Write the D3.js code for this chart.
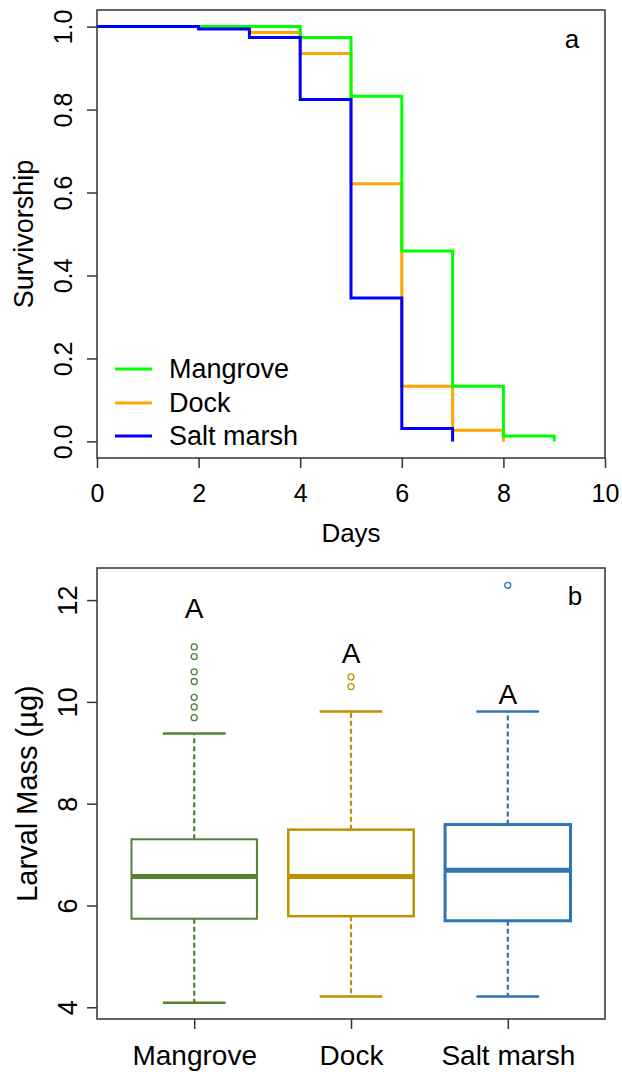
<!DOCTYPE html>
<html>
<head>
<meta charset="utf-8">
<script src="https://cdn.jsdelivr.net/npm/d3@7"></script>
<style>
  body { margin: 0; background: #fff; }
  svg text { font-family: "Liberation Sans", Arial, sans-serif; fill: #000; }
</style>
</head>
<body>
<div id="chart"></div>
<script>
// ---- panel a: survivorship ----
var dayTicks = [0, 2, 4, 6, 8, 10];
var survTicks = [0, 0.2, 0.4, 0.6, 0.8, 1.0];

var mangroveDays = [0, 4, 5, 6, 7, 8, 9];
var mangroveSurv = [1, 0.974, 0.832, 0.459, 0.133, 0.013, 0];
var dockDays = [0, 3, 4, 5, 6, 7, 8];
var dockSurv = [1, 0.986, 0.935, 0.621, 0.133, 0.027, 0];
var saltDays = [0, 2, 3, 4, 5, 6, 7];
var saltSurv = [1, 0.994, 0.974, 0.824, 0.346, 0.031, 0];

var seriesNames = ["Mangrove", "Dock", "Salt marsh"];
var seriesColors = ["#00ff00", "#ffa500", "#0000ff"];

// ---- panel b: larval mass ----
var sites = ["Mangrove", "Dock", "Salt marsh"];
var siteColors = ["#548235", "#bf9000", "#2e75b6"];
var lowerWhisker = [4.09, 4.21, 4.21];
var q1 = [5.74, 5.79, 5.70];
var medians = [6.57, 6.57, 6.69];
var q3 = [7.30, 7.49, 7.59];
var upperWhisker = [9.38, 9.81, 9.81];
var outliers = [
    [9.69, 9.90, 10.09, 10.40, 10.59, 10.89, 11.08],
    [10.30, 10.49],
    [12.29]
];
var groupLetters = ["A", "A", "A"];
var letterY = [11.85, 10.95, 10.15];
var massTicks = [4, 6, 8, 10, 12];

var svg = d3.select("#chart").append("svg")
    .attr("width", 622)
    .attr("height", 1072);

svg.append("rect").attr("width", 622).attr("height", 1072).attr("fill", "#fff");

// panel a scales
var xA = d3.scaleLinear().domain([0, 10]).range([97, 605]);
var yA = d3.scaleLinear().domain([-0.04, 1.04]).range([458, 10]);

var gA = svg.append("g");

var stepLine = d3.line()
    .x(function(d) { return xA(d[0]); })
    .y(function(d) { return yA(d[1]); })
    .curve(d3.curveStepAfter);

var curves = [
    d3.zip(mangroveDays, mangroveSurv),
    d3.zip(dockDays, dockSurv),
    d3.zip(saltDays, saltSurv)
];

// dock first, then mangrove, salt marsh on top
[1, 0, 2].forEach(function(i) {
    gA.append("path")
        .attr("d", stepLine(curves[i]))
        .attr("fill", "none")
        .attr("stroke", seriesColors[i])
        .attr("stroke-width", 3);
});

gA.append("rect")
    .attr("x", 97).attr("y", 10)
    .attr("width", 508).attr("height", 448)
    .attr("fill", "none")
    .attr("stroke", "#333")
    .attr("stroke-width", 1.5);

var axisA_x = gA.append("g")
    .attr("transform", "translate(0,458)")
    .call(d3.axisBottom(xA).tickValues(dayTicks).tickSize(10).tickPadding(16));
axisA_x.select(".domain").remove();
axisA_x.selectAll("line").attr("stroke", "#333").attr("stroke-width", 1.5);
axisA_x.selectAll("text").style("font-size", "25px");

var axisA_y = gA.append("g")
    .attr("transform", "translate(97,0)")
    .call(d3.axisLeft(yA).tickValues(survTicks).tickSize(10).tickFormat(d3.format(".1f")));
axisA_y.select(".domain").remove();
axisA_y.selectAll("line").attr("stroke", "#333").attr("stroke-width", 1.5);
axisA_y.selectAll("text")
    .attr("transform", "rotate(-90)")
    .attr("x", 0).attr("y", -25).attr("dy", null)
    .attr("text-anchor", "middle")
    .style("font-size", "25px");

gA.append("text")
    .attr("x", xA(5)).attr("y", 542)
    .attr("text-anchor", "middle")
    .style("font-size", "26px")
    .text("Days");

gA.append("text")
    .attr("transform", "translate(33," + ((10 + 458) / 2) + ") rotate(-90)")
    .attr("text-anchor", "middle")
    .style("font-size", "27px")
    .text("Survivorship");

gA.append("text")
    .attr("x", 572).attr("y", 48)
    .attr("text-anchor", "middle")
    .style("font-size", "26px")
    .text("a");

// legend
var legendY = [369, 403, 436];
seriesNames.forEach(function(name, i) {
    gA.append("line")
        .attr("x1", 115).attr("x2", 152)
        .attr("y1", legendY[i]).attr("y2", legendY[i])
        .attr("stroke", seriesColors[i])
        .attr("stroke-width", 3);
    gA.append("text")
        .attr("x", 169).attr("y", legendY[i])
        .attr("dy", "0.35em")
        .style("font-size", "27px")
        .text(name);
});

// panel b scales
var xB = d3.scaleLinear().domain([0.38, 3.62]).range([97, 605]);
var yB = d3.scaleLinear().domain([3.77, 12.63]).range([1019, 568]);

var gB = svg.append("g");

sites.forEach(function(site, i) {
    var cx = xB(i + 1);
    var col = siteColors[i];
    var sw = [2, 2.5, 3][i];

    // whiskers
    gB.append("line")
        .attr("x1", cx).attr("x2", cx)
        .attr("y1", yB(q3[i])).attr("y2", yB(upperWhisker[i]))
        .attr("stroke", col).attr("stroke-width", 2.2)
        .attr("stroke-dasharray", "5,3");
    gB.append("line")
        .attr("x1", cx).attr("x2", cx)
        .attr("y1", yB(q1[i])).attr("y2", yB(lowerWhisker[i]))
        .attr("stroke", col).attr("stroke-width", 2.2)
        .attr("stroke-dasharray", "5,3");

    // caps
    [upperWhisker[i], lowerWhisker[i]].forEach(function(v) {
        gB.append("line")
            .attr("x1", xB(i + 0.8)).attr("x2", xB(i + 1.2))
            .attr("y1", yB(v)).attr("y2", yB(v))
            .attr("stroke", col).attr("stroke-width", 2.5);
    });

    // box
    gB.append("rect")
        .attr("x", xB(i + 0.6)).attr("y", yB(q3[i]))
        .attr("width", xB(i + 1.4) - xB(i + 0.6))
        .attr("height", yB(q1[i]) - yB(q3[i]))
        .attr("fill", "#fff")
        .attr("stroke", col).attr("stroke-width", sw);

    // median
    gB.append("line")
        .attr("x1", xB(i + 0.6)).attr("x2", xB(i + 1.4))
        .attr("y1", yB(medians[i])).attr("y2", yB(medians[i]))
        .attr("stroke", col).attr("stroke-width", 5);

    // outliers
    gB.selectAll(null)
        .data(outliers[i])
        .enter()
        .append("circle")
        .attr("cx", cx)
        .attr("cy", function(d) { return yB(d); })
        .attr("r", 3)
        .attr("fill", "none")
        .attr("stroke", col)
        .attr("stroke-width", 1.3);

    gB.append("text")
        .attr("x", cx).attr("y", yB(letterY[i]))
        .attr("dy", "0.35em")
        .attr("text-anchor", "middle")
        .style("font-size", "28px")
        .text(groupLetters[i]);
});

gB.append("rect")
    .attr("x", 97).attr("y", 568)
    .attr("width", 508).attr("height", 451)
    .attr("fill", "none")
    .attr("stroke", "#333")
    .attr("stroke-width", 1.5);

var axisB_x = gB.append("g")
    .attr("transform", "translate(0,1019)")
    .call(d3.axisBottom(xB).tickValues([1, 2, 3]).tickSize(10).tickPadding(16)
        .tickFormat(function(d) { return sites[d - 1]; }));
axisB_x.select(".domain").remove();
axisB_x.selectAll("line").attr("stroke", "#333").attr("stroke-width", 1.5);
axisB_x.selectAll("text").style("font-size", "28px");

var axisB_y = gB.append("g")
    .attr("transform", "translate(97,0)")
    .call(d3.axisLeft(yB).tickValues(massTicks).tickSize(10));
axisB_y.select(".domain").remove();
axisB_y.selectAll("line").attr("stroke", "#333").attr("stroke-width", 1.5);
axisB_y.selectAll("text")
    .attr("transform", "rotate(-90)")
    .attr("x", 0).attr("y", -20).attr("dy", null)
    .attr("text-anchor", "middle")
    .style("font-size", "27px");

gB.append("text")
    .attr("transform", "translate(37," + ((568 + 1019) / 2) + ") rotate(-90)")
    .attr("text-anchor", "middle")
    .style("font-size", "29px")
    .text("Larval Mass (µg)");

gB.append("text")
    .attr("x", 575).attr("y", 605)
    .attr("text-anchor", "middle")
    .style("font-size", "26px")
    .text("b");
</script>
</body>
</html>
